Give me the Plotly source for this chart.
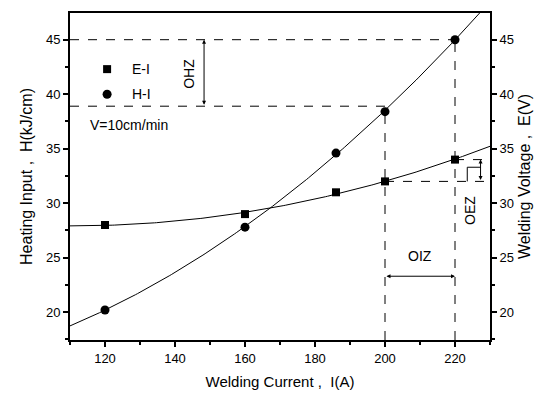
import numpy as np
import plotly.graph_objects as go

current = [120, 160, 186, 200, 220]
voltage_E = [28.0, 29.0, 31.0, 32.0, 34.0]
heat_H = [20.2, 27.8, 34.6, 38.4, 45.0]
x_ticks = [120, 140, 160, 180, 200, 220]
y_ticks = [20, 25, 30, 35, 40, 45]

xr = [110, 230]
yr = [17.45, 47.45]

cE = np.polyfit(current, voltage_E, 2)
cH = np.polyfit(current, heat_H, 2)
xs = np.linspace(xr[0], xr[1], 200)

FONT = "Liberation Sans Narrow, Arial Narrow, Liberation Sans, Arial"
TFONT = "Liberation Sans, Arial"

fig = go.Figure()
fig.add_trace(go.Scatter(x=xs, y=np.polyval(cE, xs), mode="lines",
                         line=dict(color="black", width=1), showlegend=False))
fig.add_trace(go.Scatter(x=xs, y=np.polyval(cH, xs), mode="lines",
                         line=dict(color="black", width=1), showlegend=False))
fig.add_trace(go.Scatter(x=current, y=voltage_E, mode="markers",
                         marker=dict(symbol="square", size=8, color="black"), showlegend=False))
fig.add_trace(go.Scatter(x=current, y=heat_H, mode="markers",
                         marker=dict(symbol="circle", size=9, color="black"), showlegend=False))
fig.add_trace(go.Scatter(x=[current[0]], y=[voltage_E[0]], yaxis="y2", mode="markers",
                         marker=dict(opacity=0), showlegend=False, hoverinfo="skip"))

dash = dict(color="black", width=1, dash="dash")
H_ref = 38.9
shapes = [
    dict(type="line", xref="x", yref="y", x0=xr[0], x1=current[4], y0=heat_H[4], y1=heat_H[4], line=dash),
    dict(type="line", xref="x", yref="y", x0=current[4], x1=current[4], y0=yr[0], y1=heat_H[4], line=dash),
    dict(type="line", xref="x", yref="y", x0=xr[0], x1=current[3], y0=H_ref, y1=H_ref, line=dash),
    dict(type="line", xref="x", yref="y", x0=current[3], x1=current[3], y0=yr[0], y1=heat_H[3], line=dash),
    dict(type="line", xref="x", yref="y", x0=current[3], x1=xr[1], y0=voltage_E[3], y1=voltage_E[3], line=dash),
    dict(type="line", xref="x", yref="y", x0=current[4], x1=228.5, y0=voltage_E[4], y1=voltage_E[4], line=dash),
    dict(type="line", xref="x", yref="y", x0=223.5, x1=227.3, y0=33.3, y1=33.3, line=dict(color="black", width=1)),
    dict(type="line", xref="x", yref="y", x0=223.5, x1=223.5, y0=33.3, y1=32.0, line=dict(color="black", width=1)),
]

ann = []
def arrow(x0, y0, x1, y1):
    ann.append(dict(x=x1, y=y1, ax=x0, ay=y0, xref="x", yref="y", axref="x", ayref="y",
                    showarrow=True, arrowhead=2, arrowsize=0.8, arrowwidth=1,
                    arrowside="end+start", arrowcolor="black", text=""))
arrow(148.3, H_ref, 148.3, heat_H[4])
arrow(current[3], 23.3, current[4], 23.3)
arrow(227.3, voltage_E[3], 227.3, voltage_E[4])

def txt(x, y, s, size=14, angle=0, xanchor="center"):
    ann.append(dict(x=x, y=y, xref="x", yref="y", text=s, showarrow=False, textangle=angle,
                    xanchor=xanchor, font=dict(family=TFONT, size=size, color="black")))
txt(143.8, 41.9, "OHZ", angle=-90)
txt(210, 25.2, "OIZ")
txt(224.3, 29.3, "OEZ", angle=-90)
txt(127, 42.3, "E-I", xanchor="left")
txt(127, 40.0, "H-I", xanchor="left")
txt(115.0, 37.2, "V=10cm/min", xanchor="left", size=14)

fig.add_trace(go.Scatter(x=[120.6], y=[42.3], mode="markers",
                         marker=dict(symbol="square", size=8, color="black"), showlegend=False))
fig.add_trace(go.Scatter(x=[120.6], y=[40.0], mode="markers",
                         marker=dict(symbol="circle", size=9, color="black"), showlegend=False))

axis_common = dict(showgrid=False, zeroline=False, showline=True, linecolor="black", linewidth=2,
                   ticks="outside", ticklen=5, tickwidth=1.5, tickcolor="black",
                   tickfont=dict(family=FONT, size=13, color="black"))

fig.update_layout(
    width=542, height=400,
    margin=dict(l=70, r=51, t=11, b=60),
    paper_bgcolor="white", plot_bgcolor="white",
    shapes=shapes, annotations=ann,
    xaxis=dict(range=xr, tickvals=x_ticks, mirror=True,
               minor=dict(ticks="outside", dtick=10, tick0=110, ticklen=3, tickcolor="black"),
               title=dict(text="Welding Current ,  I(A)", standoff=12,
                          font=dict(family=TFONT, size=15, color="black")),
               **axis_common),
    yaxis=dict(range=yr, tickvals=y_ticks,
               minor=dict(ticks="outside", dtick=2.5, tick0=20, ticklen=3, tickcolor="black"),
               title=dict(text="Heating Input ,  H(kJ/cm)", standoff=9,
                          font=dict(family=TFONT, size=16, color="black")),
               **axis_common),
    yaxis2=dict(range=yr, tickvals=y_ticks, overlaying="y", side="right",
                minor=dict(ticks="outside", dtick=2.5, tick0=20, ticklen=3, tickcolor="black"),
                title=dict(text="Welding Voltage ,  E(V)", standoff=6,
                           font=dict(family=TFONT, size=16, color="black")),
                **axis_common),
)
fig.write_html("out.html")
